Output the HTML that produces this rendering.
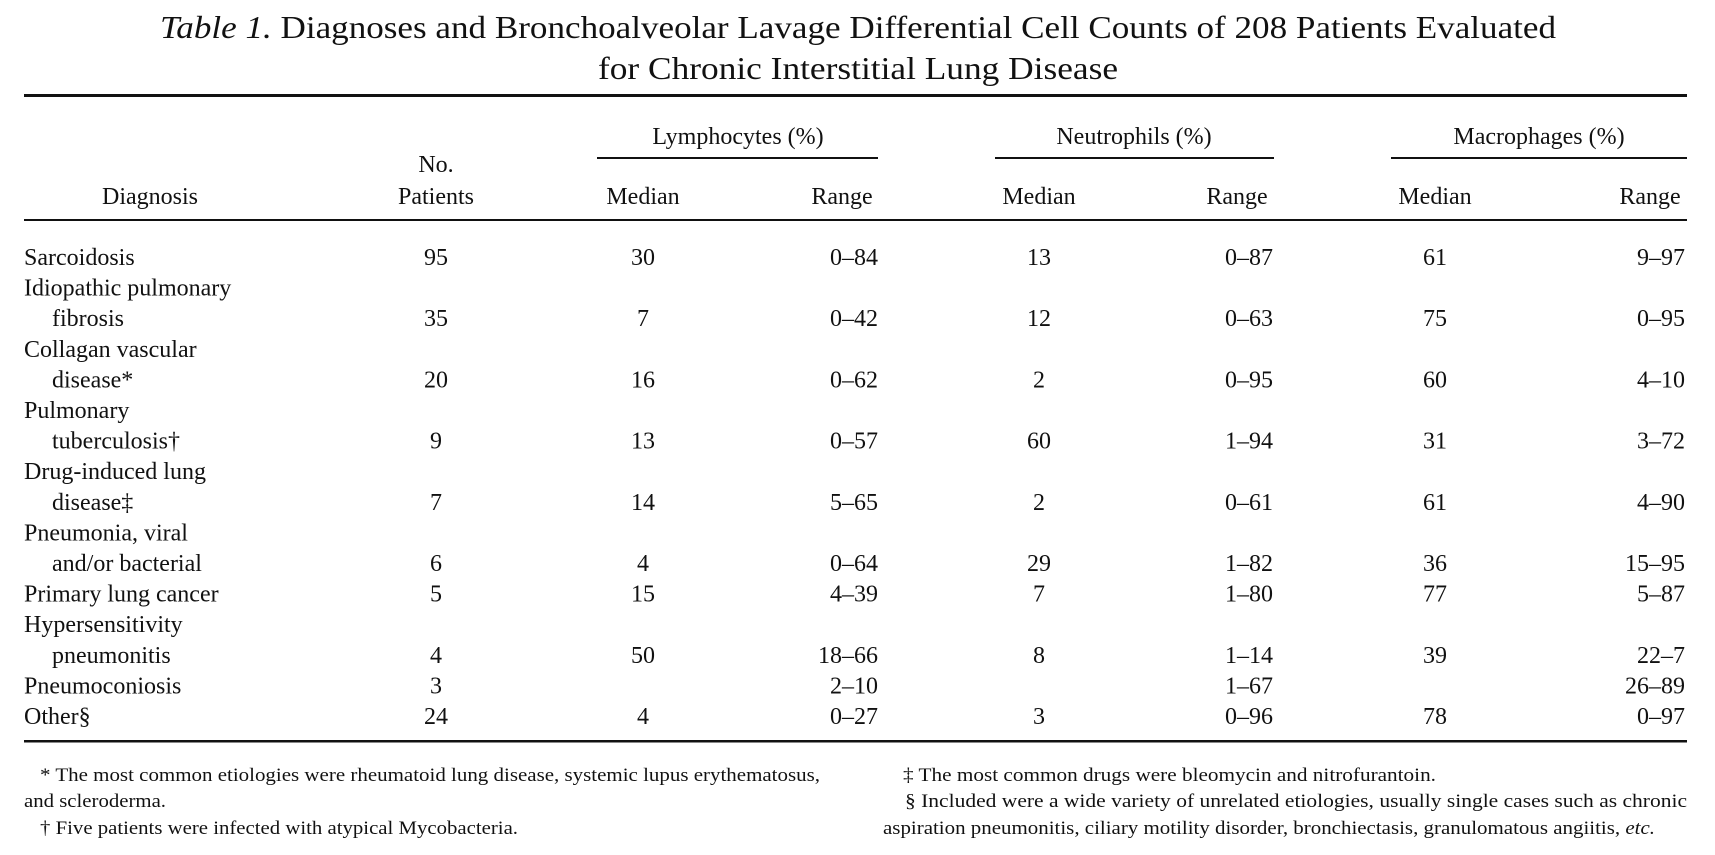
<!DOCTYPE html>
<html><head><meta charset="utf-8"><style>
html,body{margin:0;padding:0;background:#fff;}
svg{display:block;font-family:"Liberation Serif",serif;fill:#111;}
</style></head><body>
<svg width="1715" height="855" viewBox="0 0 1715 855" xmlns="http://www.w3.org/2000/svg">
<g font-size="32" text-anchor="middle">
<text x="858" y="38" textLength="1396" lengthAdjust="spacingAndGlyphs"><tspan font-style="italic">Table 1.</tspan> Diagnoses and Bronchoalveolar Lavage Differential Cell Counts of 208 Patients Evaluated</text>
<text x="858" y="79" textLength="520" lengthAdjust="spacingAndGlyphs">for Chronic Interstitial Lung Disease</text>
</g>
<rect x="24" y="94" width="1663" height="3" fill="#111"/>
<g font-size="24" text-anchor="middle">
<text x="738" y="144">Lymphocytes (%)</text>
<text x="1134" y="144">Neutrophils (%)</text>
<text x="1539" y="144">Macrophages (%)</text>
<text x="436" y="172">No.</text>
<text x="150" y="204">Diagnosis</text>
<text x="436" y="204">Patients</text>
<text x="643" y="204">Median</text>
<text x="842" y="204">Range</text>
<text x="1039" y="204">Median</text>
<text x="1237" y="204">Range</text>
<text x="1435" y="204">Median</text>
<text x="1650" y="204">Range</text>
</g>
<rect x="597" y="157" width="281" height="2" fill="#111"/>
<rect x="995" y="157" width="279" height="2" fill="#111"/>
<rect x="1391" y="157" width="296" height="2" fill="#111"/>
<rect x="24" y="219" width="1663" height="2" fill="#111"/>
<g id="body" font-size="24"></g>
<rect x="24" y="740" width="1663" height="2.5" fill="#111"/>
<g font-size="19">
<text x="40" y="781" textLength="780" lengthAdjust="spacingAndGlyphs">* The most common etiologies were rheumatoid lung disease, systemic lupus erythematosus,</text>
<text x="24" y="807" textLength="142" lengthAdjust="spacingAndGlyphs">and scleroderma.</text>
<text x="40" y="834" textLength="478" lengthAdjust="spacingAndGlyphs">† Five patients were infected with atypical Mycobacteria.</text>
<text x="903" y="781" textLength="533" lengthAdjust="spacingAndGlyphs">‡ The most common drugs were bleomycin and nitrofurantoin.</text>
<text x="905" y="807" textLength="782" lengthAdjust="spacingAndGlyphs">§ Included were a wide variety of unrelated etiologies, usually single cases such as chronic</text>
<text x="883" y="834" textLength="772" lengthAdjust="spacingAndGlyphs">aspiration pneumonitis, ciliary motility disorder, bronchiectasis, granulomatous angiitis, <tspan font-style="italic">etc.</tspan></text>
</g>
</svg>
<script>
const diagnosisLines = [["Sarcoidosis"],["Idiopathic pulmonary","fibrosis"],["Collagan vascular","disease*"],["Pulmonary","tuberculosis†"],["Drug-induced lung","disease‡"],["Pneumonia, viral","and/or bacterial"],["Primary lung cancer"],["Hypersensitivity","pneumonitis"],["Pneumoconiosis"],["Other§"]];
const patients = ["95","35","20","9","7","6","5","4","3","24"];
const lymphMedian = ["30","7","16","13","14","4","15","50","","4"];
const lymphRange = ["0–84","0–42","0–62","0–57","5–65","0–64","4–39","18–66","2–10","0–27"];
const neutMedian = ["13","12","2","60","2","29","7","8","","3"];
const neutRange = ["0–87","0–63","0–95","1–94","0–61","1–82","1–80","1–14","1–67","0–96"];
const macroMedian = ["61","75","60","31","61","36","77","39","","78"];
const macroRange = ["9–97","0–95","4–10","3–72","4–90","15–95","5–87","22–7","26–89","0–97"];
const g = document.getElementById('body');
const NS = "http://www.w3.org/2000/svg";
function t(x, y, s, anchor, name) {
  const e = document.createElementNS(NS, 'text');
  e.setAttribute('x', x); e.setAttribute('y', y);
  e.setAttribute('text-anchor', anchor);
  
  
  e.textContent = s; g.appendChild(e);
}
let line = 0;
const y0 = 265, pitch = 30.6;
diagnosisLines.forEach((lines, i) => {
  lines.forEach((s, j) => { t(j === 0 ? 24 : 52, y0 + pitch * (line + j), s, 'start', 'diagnosis-label'); });
  const y = y0 + pitch * (line + lines.length - 1);
  t(436, y, patients[i], 'middle', 'patients-count');
  t(643, y, lymphMedian[i], 'middle', 'lymphocytes-median');
  t(878, y, lymphRange[i], 'end', 'lymphocytes-range');
  t(1039, y, neutMedian[i], 'middle', 'neutrophils-median');
  t(1273, y, neutRange[i], 'end', 'neutrophils-range');
  t(1435, y, macroMedian[i], 'middle', 'macrophages-median');
  t(1685, y, macroRange[i], 'end', 'macrophages-range');
  line += lines.length;
});
</script>
</body></html>
